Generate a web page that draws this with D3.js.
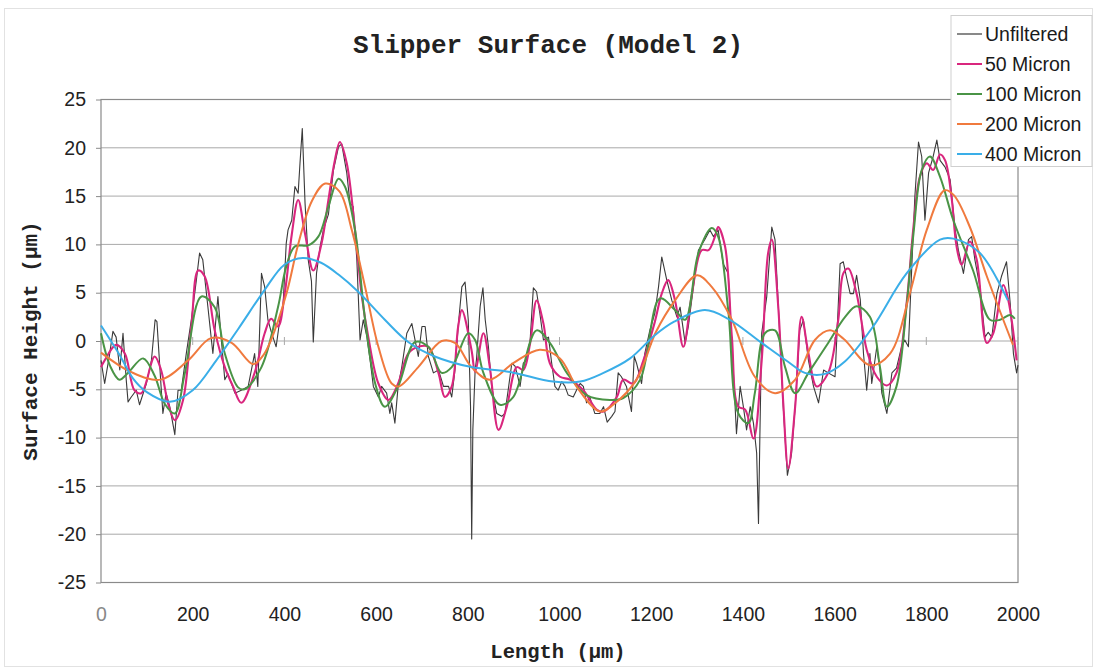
<!DOCTYPE html>
<html><head><meta charset="utf-8">
<script src="https://cdn.jsdelivr.net/npm/d3@7"></script>
<style>html,body{margin:0;padding:0;background:#fff;}svg{display:block;}</style>
</head><body>
<svg id="chart" width="1098" height="672"></svg>
<script>
const title = "Slipper Surface (Model 2)";
const xTitle = "Length (µm)";
const yTitle = "Surface Height (µm)";
const xTicks = [0,200,400,600,800,1000,1200,1400,1600,1800,2000];
const yTicks = [-25,-20,-15,-10,-5,0,5,10,15,20,25];
const seriesNames = ["Unfiltered","50 Micron","100 Micron","200 Micron","400 Micron"];

const uX = [0,8,19,26,33,41,48,55,59,66,77,84,99,110,118,122,131,135,142,150,161,168,175,186,197,208,215,222,233,244,255,262,270,277,292,306,321,335,342,350,357,364,371,382,390,397,404,408,416,423,430,434,439,445,452,459,463,470,478,485,496,507,518,525,536,543,550,558,565,572,580,587,594,605,612,623,630,634,641,648,656,667,678,685,692,700,707,714,725,736,747,758,765,772,779,787,794,801,806,808.5,811,816,819,827,833,838,845,852,863,874,881,888,896,903,907,914,921,928,936,943,950,957,965,976,983,990,997,1005,1012,1019,1030,1037,1045,1052,1059,1066,1077,1088,1096,1104,1114,1121,1128,1135,1146,1157,1163,1168,1179,1186,1197,1208,1216,1223,1234,1245,1256,1263,1274,1281,1292,1303,1317,1328,1336,1346,1357,1368,1379,1386,1394,1401,1408,1416,1423,1430,1434,1437,1441,1452,1463,1470,1477,1488,1497,1506,1514,1524,1532,1543,1554,1565,1576,1586,1601,1612,1619,1626,1634,1641,1648,1656,1663,1670,1677,1681,1692,1699,1703,1714,1725,1735,1746,1753,1761,1768,1775,1783,1790,1797,1805,1815,1823,1830,1841,1852,1863,1870,1881,1892,1899,1906,1917,1928,1935,1943,1954,1964,1975,1983,1990,1997,2000];
const uY = [-2.0,-4.4,-1.3,1.0,0.4,-3.0,0.8,-4.0,-6.3,-5.8,-5.1,-6.6,-4.4,-2.0,2.2,2.0,-4.7,-7.5,-5.4,-6.8,-9.7,-5.1,-5.1,-1.3,2.2,6.3,9.1,8.4,3.6,-1.3,4.6,0.4,-4.0,-3.4,-5.4,-5.1,-4.7,-1.3,-4.7,7.0,5.6,2.2,1.0,-0.6,2.2,3.6,10.1,11.5,12.5,16.0,15.3,18.4,22.0,14.3,8.4,6.2,-0.1,7.0,9.8,11.5,13.1,17.7,20.1,20.4,17.4,14.3,13.9,8.4,0.1,2.2,0.4,-2.0,-4.7,-5.8,-4.7,-5.4,-7.5,-6.4,-8.5,-4.7,-2.7,0.8,1.8,0.1,-1.6,1.5,1.5,-1.6,-3.3,-3.0,-4.7,-4.7,-5.8,-3.0,1.5,5.6,6.1,2.2,-6.8,-20.5,-9.2,-3.0,-1.9,3.6,5.5,2.2,-0.6,-4.7,-7.5,-7.8,-7.5,-5.1,-2.3,-2.6,-3.3,-4.7,-2.3,-2.0,0.1,5.5,5.1,2.9,0.1,0.4,-2.3,-4.7,-5.1,-4.2,-4.7,-5.6,-5.8,-5.1,-4.4,-4.7,-6.4,-5.8,-7.5,-7.5,-6.8,-8.4,-7.8,-7.3,-3.3,-3.7,-4.7,-7.3,-1.6,-2.3,-4.4,-1.3,1.1,2.9,5.6,8.7,6.3,4.2,2.5,3.5,-0.2,1.5,5.6,9.4,10.5,11.5,10.8,11.5,8.0,7.0,-3.0,-9.6,-4.7,-6.8,-9.2,-6.8,-8.5,-11.6,-18.9,-9.9,0.8,4.6,11.8,10.5,3.9,-6.8,-13.9,-11.7,-6.8,1.1,2.2,-2.0,-4.7,-6.4,-3.0,-3.3,-3.7,8.0,8.2,6.6,4.9,4.9,6.8,4.3,-1.3,-5.1,-1.3,-4.4,-0.6,-3.0,-5.4,-7.5,-3.3,-2.8,-0.6,0.1,-0.6,7.3,14.9,20.6,19.1,12.5,17.4,19.1,20.8,18.7,18.0,16.7,11.5,9.4,7.0,10.5,10.8,8.4,5.6,0.4,0.9,0.4,4.9,6.7,8.2,3.9,-1.3,-3.3,-2.5];

const mX = [0,8,33,52,73,88,117,131,146,161,179,197,212,226,248,270,288,306,335,357,371,386,401,416,430,445,463,481,496,510,521,536,554,569,583,605,627,648,670,692,714,736,750,765,779,787,808,816,834,848,867,885,907,921,936,950,965,979,1001,1023,1052,1081,1096,1125,1139,1161,1183,1208,1223,1237,1252,1270,1288,1310,1325,1339,1346,1361,1376,1390,1405,1423,1441,1455,1463,1477,1488,1499,1514,1528,1543,1561,1586,1608,1619,1630,1648,1670,1692,1714,1735,1757,1772,1786,1801,1815,1830,1841,1855,1866,1877,1895,1910,1932,1946,1968,1979,1997];
const mY = [-2.7,-2.0,-0.4,-1.3,-5.1,-5.4,-1.6,-3.0,-6.4,-8.2,-6.1,1.5,7.3,6.7,1.1,-2.7,-4.7,-6.4,-3.3,0.8,2.3,1.5,5.0,11.0,14.6,11.1,7.3,10.1,14.6,18.7,20.6,18.4,11.5,4.6,0.4,-4.4,-6.1,-4.4,-1.3,-0.6,-0.6,-3.3,-5.8,-4.7,1.5,3.2,-0.9,-3.2,0.8,-2.7,-9.2,-6.8,-2.7,-3.0,-0.2,4.2,1.8,-2.3,-3.7,-4.0,-5.1,-7.1,-7.3,-5.8,-4.0,-4.4,-2.0,2.0,4.9,6.3,4.2,-0.6,4.6,9.4,9.4,10.8,11.8,9.8,0.4,-6.8,-7.1,-10.1,-2.0,9.1,10.5,3.6,-6.4,-13.2,-6.8,2.5,-1.3,-4.7,-3.3,2.2,7.0,7.5,4.9,-0.9,-3.7,-4.6,-3.3,3.9,11.8,17.0,18.4,17.7,19.3,18.7,14.9,9.8,7.9,10.3,8.4,-0.2,0.8,5.8,4.2,-2.0];

const gX = [0,20,40,59,92,117,139,161,183,219,248,270,299,313,350,386,404,423,452,474,496,518,532,554,576,598,619,648,685,714,743,765,801,816,834,870,899,950,979,1016,1059,1110,1139,1176,1219,1252,1274,1303,1332,1346,1368,1390,1412,1426,1448,1470,1492,1514,1543,1586,1623,1648,1677,1699,1714,1735,1757,1772,1790,1808,1830,1859,1902,1939,1961,1983,1993];
const gY = [0.8,-2.6,-4.0,-3.3,-1.8,-3.6,-6.5,-7.5,-3.3,4.6,3.5,-1.3,-4.8,-5.0,-2.7,3.5,7.7,9.8,9.9,10.8,13.9,16.8,16.0,11.5,2.2,-4.4,-6.8,-4.7,-0.1,-0.6,-3.3,-2.7,0.8,0.1,-3.3,-6.6,-5.8,1.1,-0.2,-3.3,-5.6,-6.1,-5.9,-4.0,4.4,3.2,2.2,9.1,11.7,10.8,3.2,-7.5,-8.5,-5.4,0.8,1.1,-2.7,-5.4,-3.3,-0.2,2.5,3.6,2.5,-2.7,-6.8,-4.7,3.6,11.1,17.7,19.1,17.0,12.5,7.3,2.2,2.2,2.7,2.3];

const oX = [0,65,130,190,240,285,332,355,370,405,430,460,489,520,547,576,605,634,650,692,743,772,808,848,899,957,1001,1037,1088,1117,1168,1210,1252,1300,1332,1376,1426,1470,1514,1557,1590,1620,1677,1721,1764,1801,1840,1860,1895,1932,1989];
const oY = [-1.2,-3.2,-4.0,-2.0,0.3,-0.2,-2.4,-1.4,0.0,5.0,10.0,14.5,16.3,15.5,11.5,5.6,-0.6,-4.4,-4.7,-2.7,0.0,-0.2,-2.7,-4.0,-2.3,-0.9,-1.8,-4.7,-7.3,-6.6,-4.0,0.9,4.2,6.8,5.6,2.2,-3.7,-5.4,-4.0,0.1,1.1,0.2,-2.5,-1.3,4.9,11.5,15.6,15.1,11.8,6.7,-0.4];

const bX = [0,40,70,100,150,200,250,300,357,400,440,480,520,561,619,670,728,808,892,986,1045,1096,1154,1208,1250,1317,1368,1441,1500,1535,1579,1623,1684,1757,1830,1859,1917,1978];
const bY = [1.6,-1.4,-3.9,-5.3,-6.3,-5.1,-2.1,1.3,5.3,7.9,8.6,8.1,6.8,5.1,2.2,-0.1,-1.6,-2.7,-3.2,-4.2,-4.2,-3.3,-1.8,0.6,2.0,3.2,2.3,-0.2,-2.2,-3.3,-3.4,-2.1,1.5,7.0,10.5,10.6,9.1,4.2];

const colors = ["#3a3a3a","#d9267e","#4a9446","#f07a3e","#3aaee8"];

const svg = d3.select("#chart");
const L = 101, T = 99.5, W = 917, H = 483;
const x = d3.scaleLinear().domain([0,2000]).range([L, L+W]);
const y = d3.scaleLinear().domain([-25,25]).range([T+H, T]);

// outer frame
svg.append("rect").attr("x",4.5).attr("y",8.5).attr("width",1088).attr("height",658)
  .attr("fill","none").attr("stroke","#e2e2e2").attr("stroke-width",1);

// gridlines
svg.append("g").selectAll("line").data(yTicks).join("line")
  .attr("x1",L).attr("x2",L+W).attr("y1",d=>y(d)).attr("y2",d=>y(d))
  .attr("stroke","#a9a9a9").attr("stroke-width",1);

// plot border
svg.append("rect").attr("x",L).attr("y",T).attr("width",W).attr("height",H)
  .attr("fill","none").attr("stroke","#8a8a8a").attr("stroke-width",1.2);

// tick marks along the zero line
svg.append("g").selectAll("line").data(xTicks).join("line")
  .attr("x1",d=>x(d)).attr("x2",d=>x(d)).attr("y1",y(0)-4).attr("y2",y(0)+4)
  .attr("stroke","#a9a9a9").attr("stroke-width",1);

// y axis labels
const yAxis = d3.axisLeft(y).tickValues(yTicks).tickSize(5).tickPadding(10).tickFormat(d=>String(d));
const ya = svg.append("g").attr("transform",`translate(${L},0)`).call(yAxis);
ya.select(".domain").remove();
ya.selectAll("line").attr("stroke","#8a8a8a");
ya.selectAll("text").attr("font-family","Liberation Sans, Arial, sans-serif").attr("font-size",19.5).attr("fill","#222");

// x axis labels
const xAxis = d3.axisBottom(x).tickValues(xTicks).tickSize(0).tickPadding(25).tickFormat(d=>String(d));
const xa = svg.append("g").attr("transform",`translate(0,${T+H})`).call(xAxis);
xa.select(".domain").remove();
xa.selectAll("text").attr("font-family","Liberation Sans, Arial, sans-serif").attr("font-size",19.5).attr("fill",(d)=>d===0?"#888":"#222");

// series
const series = [
  {xs:uX, ys:uY, w:1.1, curve:d3.curveLinear},
  {xs:mX, ys:mY, w:2.1, curve:d3.curveCatmullRom.alpha(0.5)},
  {xs:gX, ys:gY, w:2.0, curve:d3.curveCatmullRom.alpha(0.5)},
  {xs:oX, ys:oY, w:2.0, curve:d3.curveCatmullRom.alpha(0.5)},
  {xs:bX, ys:bY, w:2.0, curve:d3.curveCatmullRom.alpha(0.5)}
];
series.forEach((s,i)=>{
  const pts = s.xs.map((v,j)=>[v, s.ys[j]]);
  const line = d3.line().x(d=>x(d[0])).y(d=>y(d[1])).curve(s.curve);
  svg.append("path").datum(pts).attr("d",line).attr("fill","none")
    .attr("stroke",colors[i]).attr("stroke-width",s.w).attr("stroke-linejoin","round");
});

// titles
svg.append("text").attr("x",548).attr("y",53).attr("text-anchor","middle")
  .attr("font-family","Liberation Mono, Courier New, monospace").attr("font-weight","bold")
  .attr("font-size",26).attr("fill","#222").text(title);
svg.append("text").attr("x",558).attr("y",658).attr("text-anchor","middle")
  .attr("font-family","Liberation Mono, Courier New, monospace").attr("font-weight","bold")
  .attr("font-size",20.5).attr("fill","#222").text(xTitle);
svg.append("text").attr("transform","translate(37,341) rotate(-90)").attr("text-anchor","middle")
  .attr("font-family","Liberation Mono, Courier New, monospace").attr("font-weight","bold")
  .attr("font-size",21).attr("fill","#222").text(yTitle);

// legend
const lg = svg.append("g");
lg.append("rect").attr("x",951).attr("y",15.5).attr("width",141).attr("height",151)
  .attr("fill","#fff").attr("stroke","#cfcfcf").attr("stroke-width",1);
seriesNames.forEach((n,i)=>{
  const cy = 34 + i*30;
  lg.append("line").attr("x1",957).attr("x2",982).attr("y1",cy).attr("y2",cy)
    .attr("stroke",colors[i]).attr("stroke-width",i===0?1.2:2);
  lg.append("text").attr("x",985).attr("y",cy).attr("dy","0.35em")
    .attr("font-family","Liberation Sans, Arial, sans-serif").attr("font-size",19.5)
    .attr("fill","#1a1a1a").text(n);
});
</script>
</body></html>
